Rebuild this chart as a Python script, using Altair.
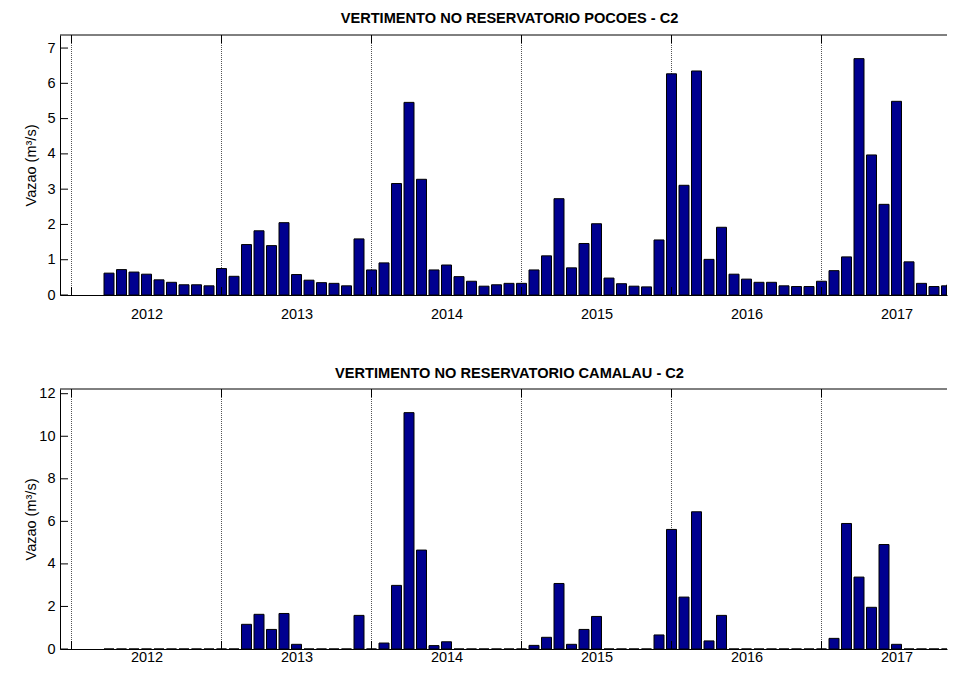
import altair as alt
import pandas as pd

# ---------------- data ----------------
YEARS = [2012, 2013, 2014, 2015, 2016, 2017]
FIRST_MONTH = 4  # April 2012 is the first bar

POCOES = [
    0.62, 0.72, 0.65, 0.59, 0.43, 0.36, 0.29, 0.29, 0.26,
    0.75, 0.53, 1.43, 1.82, 1.40, 2.05, 0.58, 0.42, 0.35, 0.33, 0.26, 1.59,
    0.71, 0.91, 3.16, 5.46, 3.28, 0.71, 0.85, 0.52, 0.39, 0.25, 0.29, 0.33,
    0.33, 0.71, 1.11, 2.73, 0.77, 1.46, 2.02, 0.48, 0.32, 0.25, 0.23, 1.56,
    6.27, 3.11, 6.35, 1.01, 1.92, 0.59, 0.45, 0.36, 0.36, 0.26, 0.24, 0.24,
    0.39, 0.69, 1.08, 6.70, 3.97, 2.57, 5.49, 0.94, 0.33, 0.24, 0.26, 0.29,
]
CAMALAU = [
    0, 0, 0, 0, 0, 0, 0, 0, 0,
    0, 0, 1.16, 1.63, 0.92, 1.67, 0.22, 0, 0, 0, 0, 1.58,
    0, 0.28, 2.99, 11.11, 4.65, 0.16, 0.34, 0, 0, 0, 0, 0,
    0, 0.17, 0.55, 3.08, 0.22, 0.92, 1.53, 0, 0, 0, 0, 0.66,
    5.62, 2.44, 6.45, 0.38, 1.58, 0, 0, 0, 0, 0, 0, 0,
    0, 0.50, 5.90, 3.38, 1.96, 4.91, 0.22, 0, 0, 0, 0, 0,
]
TITLE_TOP = "VERTIMENTO NO RESERVATORIO POCOES - C2"
TITLE_BOTTOM = "VERTIMENTO NO RESERVATORIO CAMALAU - C2"
YTICKS_TOP = [0, 1, 2, 3, 4, 5, 6, 7]
YTICKS_BOTTOM = [0, 2, 4, 6, 8, 10, 12]
Y_LABEL = "Vazao (m\u00b3/s)"

# ---------------- style ----------------
W, H = 887, 260
FONT = "Liberation Sans"
BAR_COLOR = "#00008F"
X_DOMAIN = [-0.92, -0.92 + W / 12.5]

year_df = pd.DataFrame({"year": YEARS})
year_df["t"] = (year_df["year"] - YEARS[0]) * 12
label_pos = [(y - YEARS[0]) * 12 + 6 for y in YEARS]

xscale = alt.Scale(domain=X_DOMAIN, nice=False, zero=False, clamp=True)


def panel(values, title, yticks, label_pad, title_offset):
    df = pd.DataFrame({"v": values})
    df["t"] = [FIRST_MONTH - 1 + i for i in range(len(values))]
    ymax = 1.1 * max(values)
    yscale = alt.Scale(domain=[0, ymax], nice=False, zero=True)

    xaxis = alt.Axis(
        values=label_pos,
        labelExpr=f"{YEARS[0]} + (datum.value - 6) / 12",
        tickSize=0,
        grid=False,
        domainColor="black",
        domainWidth=1,
        labelPadding=label_pad,
        labelFont=FONT,
        labelFontSize=14.5,
        labelColor="black",
        title=None,
    )
    yaxis = alt.Axis(
        values=yticks,
        tickSize=0,
        grid=False,
        domainColor="black",
        domainWidth=1,
        labelPadding=5,
        labelFont=FONT,
        labelFontSize=14.5,
        labelColor="black",
        title=Y_LABEL,
        titleFont=FONT,
        titleFontSize=14.5,
        titleFontWeight="normal",
        titleColor="black",
        titleAngle=270,
        titleX=-25,
        titleY=H / 2,
        titleAlign="center",
        titleBaseline="alphabetic",
    )

    grid = alt.Chart(year_df).mark_rule(
        color="#555555", strokeDash=[1, 1], strokeWidth=1
    ).encode(
        x=alt.X("t:Q", scale=xscale, axis=xaxis),
        y=alt.value(0),
        y2=alt.value(H),
    )
    ticks_top = alt.Chart(year_df).mark_rule(color="black", strokeWidth=1).encode(
        x=alt.X("t:Q", scale=xscale, axis=xaxis),
        y=alt.value(0),
        y2=alt.value(8),
    )
    ticks_bot = alt.Chart(year_df).mark_rule(color="black", strokeWidth=1).encode(
        x=alt.X("t:Q", scale=xscale, axis=xaxis),
        y=alt.value(H),
        y2=alt.value(H - 8),
    )
    bars = alt.Chart(df).transform_calculate(
        x0="datum.t - 0.4", x1="datum.t + 0.4", y0="0"
    ).mark_rect(color=BAR_COLOR, stroke="black", strokeWidth=1, clip=True).encode(
        x=alt.X("x0:Q", scale=xscale, axis=xaxis),
        x2="x1:Q",
        y=alt.Y("v:Q", scale=yscale, axis=yaxis),
        y2="y0:Q",
    )
    yt = alt.Chart(pd.DataFrame({"v": yticks})).mark_rule(
        color="black", strokeWidth=1
    ).encode(
        y=alt.Y("v:Q", scale=yscale, axis=yaxis),
        x=alt.value(0),
        x2=alt.value(8),
    )
    top_frame = alt.Chart(pd.DataFrame({"a": [0]})).mark_rule(
        color="black", strokeWidth=1
    ).encode(x=alt.value(0), x2=alt.value(W), y=alt.value(0))

    return alt.layer(grid, bars, ticks_top, ticks_bot, yt, top_frame).properties(
        width=W,
        height=H,
        title=alt.TitleParams(
            text=title,
            font=FONT,
            fontSize=14.6,
            fontWeight="bold",
            color="black",
            anchor="middle",
            frame="group",
            baseline="alphabetic",
            offset=title_offset,
            dx=6,
        ),
    )


chart = alt.vconcat(
    panel(POCOES, TITLE_TOP, YTICKS_TOP, 12, -3),
    panel(CAMALAU, TITLE_BOTTOM, YTICKS_BOTTOM, 1, -7),
    spacing=94,
    bounds="flush",
).properties(
    padding={"left": 15, "top": 2, "right": 0, "bottom": 0},
    background="white",
).configure_view(stroke=None)

chart.save("out.html", embed_options={"renderer": "svg", "actions": False})
